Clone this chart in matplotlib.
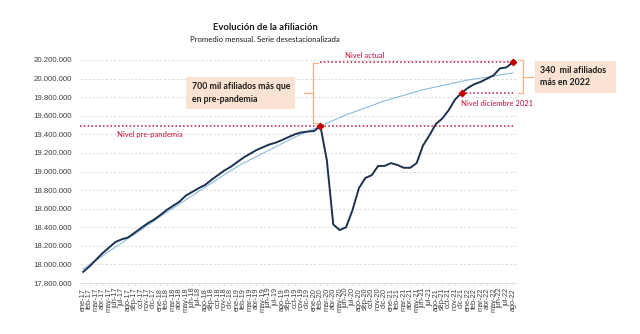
import numpy as np
import matplotlib
matplotlib.use("Agg")
import matplotlib.pyplot as plt
from matplotlib.ticker import FuncFormatter, MultipleLocator

meses = ["ene", "feb", "mar", "abr", "may", "jun", "jul", "ago", "sep", "oct", "nov", "dic"]
etiquetas = [f"{m}-{a}" for a in range(17, 23) for m in meses][:68]

# afiliados, millones (serie desestacionalizada)
afiliados = [
    17.92, 17.98, 18.05, 18.12, 18.18, 18.24, 18.27, 18.29, 18.34, 18.39, 18.44, 18.48,
    18.53, 18.585, 18.63, 18.675, 18.74, 18.78, 18.82, 18.855, 18.91, 18.96, 19.01, 19.05,
    19.10, 19.15, 19.19, 19.23, 19.26, 19.29, 19.31, 19.338, 19.37, 19.40, 19.42, 19.43,
    19.435, 19.488, 19.12, 18.43, 18.37, 18.40, 18.585, 18.82, 18.93, 18.96, 19.06, 19.06,
    19.09, 19.07, 19.04, 19.04, 19.09, 19.28, 19.39, 19.51, 19.57, 19.66, 19.775, 19.845,
    19.90, 19.94, 19.965, 20.00, 20.035, 20.11, 20.12, 20.176,
]

# tendencia, millones
tendencia = [
    17.95, 18.00, 18.045, 18.09, 18.14, 18.185, 18.23, 18.28, 18.325, 18.37, 18.42, 18.465,
    18.515, 18.56, 18.605, 18.65, 18.695, 18.74, 18.785, 18.83, 18.875, 18.92, 18.965, 19.01,
    19.05, 19.09, 19.125, 19.16, 19.195, 19.23, 19.265, 19.30, 19.335, 19.37, 19.40, 19.43,
    19.46, 19.49, 19.52, 19.55, 19.58, 19.61, 19.635, 19.66, 19.685, 19.71, 19.735, 19.76,
    19.78, 19.80, 19.82, 19.84, 19.86, 19.88, 19.895, 19.91, 19.925, 19.94, 19.955, 19.97,
    19.985, 19.995, 20.005, 20.015, 20.025, 20.04, 20.05, 20.06,
]

i_pre = etiquetas.index("feb-20")
i_dic = etiquetas.index("dic-21")
i_act = len(afiliados) - 1

y = np.array(afiliados) * 1e6
t = np.array(tendencia) * 1e6
x = np.arange(len(y))

RED = "#c0143c"
MARK = "#c00000"
ORANGE = "#f4b183"
BOXFC = "#fbe3d3"
NAVY = "#1c3150"
TXT = "#404040"
FONT = ["Lato", "DejaVu Sans"]

fig = plt.figure(figsize=(6.4, 3.34), dpi=100)
ax = fig.add_axes([80 / 640, 51 / 334, 436 / 640, 223 / 334])

ax.set_xlim(-0.5, len(x) - 0.5)
ax.set_ylim(17.8e6, 20.2e6)
ax.yaxis.set_major_locator(MultipleLocator(200000))
ax.yaxis.set_major_formatter(FuncFormatter(lambda v, p: f"{int(round(v)):,}".replace(",", ".")))
ax.grid(axis="y", color="#d9d9d9", linestyle=(0, (3, 2)), linewidth=0.6)
ax.set_axisbelow(True)
for s in ["top", "right", "left"]:
    ax.spines[s].set_visible(False)
ax.spines["bottom"].set_color("#d9d9d9")
ax.spines["bottom"].set_linewidth(0.6)

ax.set_xticks(x)
ax.set_xticklabels(etiquetas, rotation=90, fontsize=5.3, color=TXT, family="Liberation Sans")
ax.tick_params(axis="x", length=2, width=0.5, color="#d9d9d9", pad=1.5)
ax.tick_params(axis="y", length=0, labelsize=5.6, labelcolor=TXT, pad=6)
for lab in ax.get_yticklabels():
    lab.set_family("Liberation Sans")

ax.plot(x, t, color="#8dbbdb", linewidth=0.8, zorder=3)
ax.plot(x, y, color=NAVY, linewidth=1.4, zorder=4)

dots = (0, (1, 1.5))
ax.hlines(y[i_pre], -0.5, i_act, color=RED, linewidth=1.1, linestyle=dots, zorder=2)
ax.hlines(y[i_act], i_pre, i_act, color=RED, linewidth=1.1, linestyle=dots, zorder=2, clip_on=False)
ax.hlines(y[i_dic], i_dic, i_act, color=RED, linewidth=1.1, linestyle=dots, zorder=2)
ax.plot([i_pre, i_dic, i_act], [y[i_pre], y[i_dic], y[i_act]], linestyle="none",
        marker="D", markersize=3.2, color=MARK, zorder=5, clip_on=False)

ax.text(5.3, 19.40e6, "Nivel pre-pandemia", color=RED, fontsize=5.5, family=FONT, va="center")
ax.text(40.8, 20.245e6, "Nivel actual", color=RED, fontsize=5.5, family=FONT, va="center")
ax.text(58.9, 19.735e6, "Nivel diciembre 2021", color=RED, fontsize=5.5, family=FONT, va="center")

# corchete izquierdo
bx = 35.85
y0, y1 = y[i_pre] + 0.035e6, y[i_act] - 0.01e6
ym = (y0 + y1) / 2
ax.plot([bx + 0.8, bx, bx, bx + 0.8], [y0, y0, y1, y1], color=ORANGE, linewidth=0.9, clip_on=False)
ax.plot([bx - 1.4, bx], [ym, ym], color=ORANGE, linewidth=0.9, clip_on=False)

# corchete derecho
rx = 68.6
r0, r1 = y[i_dic], y[i_act] + 0.02e6
rm = (r0 + r1) / 2
ax.plot([rx - 0.8, rx, rx, rx - 0.8], [r0, r0, r1, r1], color=ORANGE, linewidth=0.9, clip_on=False)
ax.plot([rx, rx + 1.6], [rm, rm], color=ORANGE, linewidth=0.9, clip_on=False)

box = dict(boxstyle="square,pad=0.6", facecolor=BOXFC, edgecolor="none")
ax.text(16.9, ym, "700 mil afiliados más que\nen pre-pandemia", fontsize=6.3, fontweight="bold",
        family=FONT, color="#1a1a1a", va="center", ha="left", linespacing=1.45, bbox=box)
ax.text(71.3, rm, "340  mil afiliados  \nmás en 2022", fontsize=6.3, fontweight="bold",
        family=FONT, color="#1a1a1a", va="center", ha="left", linespacing=1.45, bbox=box,
        clip_on=False)

fig.text(0.414, 0.91, "Evolución de la afiliación", ha="center", fontsize=6.8,
         fontweight="bold", family=FONT, color="#1a1a1a")
fig.text(0.414, 0.875, "Promedio mensual. Serie desestacionalizada", ha="center",
         fontsize=5.6, family=FONT, color="#1a1a1a")

fig.savefig("out.png", dpi=100)
